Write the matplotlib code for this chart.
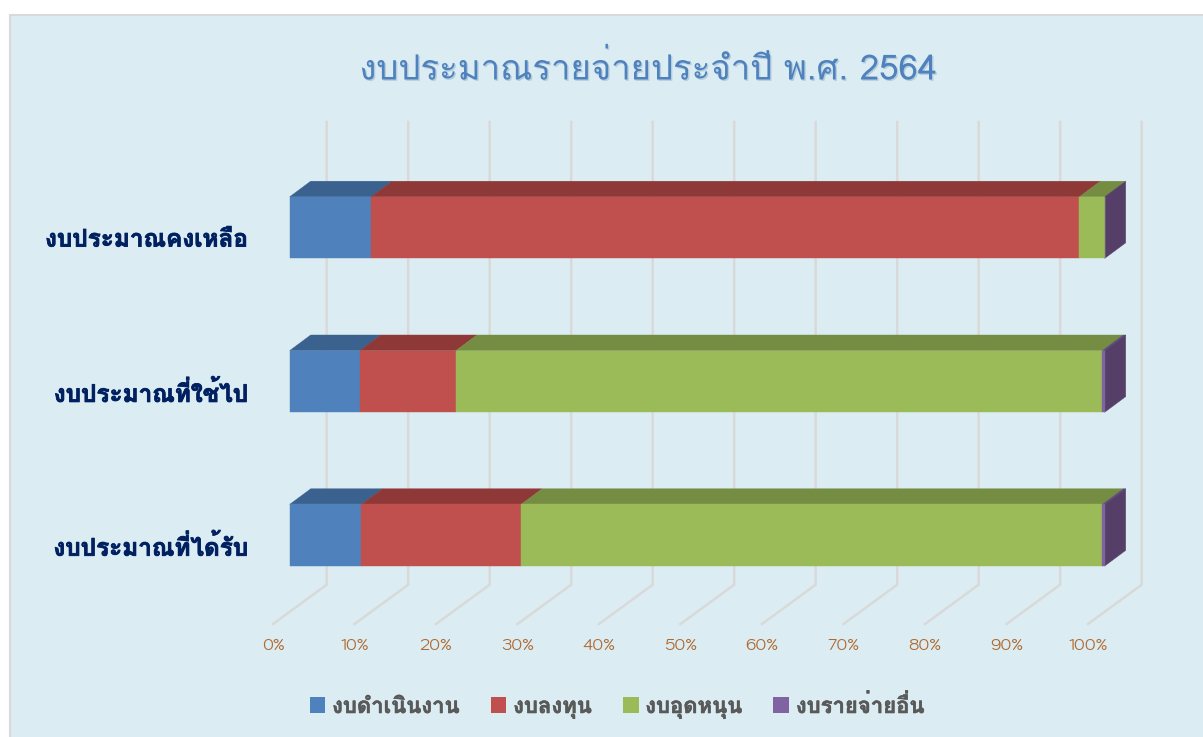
import numpy as np
from matplotlib import pyplot as plt
from matplotlib import patheffects as pe
from matplotlib.patches import Rectangle
from matplotlib.font_manager import FontProperties

W, H = 1203, 737

# data, share of each budget type in percent
categories = ['งบประมาณที่ได้รับ', 'งบประมาณที่ใช้ไป', 'งบประมาณคงเหลือ']
series_names = ['งบดำเนินงาน', 'งบลงทุน', 'งบอุดหนุน', 'งบรายจ่ายอื่น']
operating = [8.8, 8.6, 10.0]
investment = [19.6, 11.8, 86.9]
subsidy = [71.3, 79.3, 3.1]
other = [0.3, 0.3, 0.0]
xticks = [0, 10, 20, 30, 40, 50, 60, 70, 80, 90, 100]
xticklabels = ['0%', '10%', '20%', '30%', '40%', '50%', '60%', '70%', '80%', '90%', '100%']
title = 'งบประมาณรายจ่ายประจำปี พ.ศ. 2564'

front = ['#4F81BD', '#C0504D', '#9BBB59', '#8064A2']
top = ['#3B618F', '#8E3937', '#758D42', '#5F4A79']
side_color = '#553F69'
grid_color = '#D9D9D9'
thai = ['Loma', 'DejaVu Sans']

fig = plt.figure(figsize=(W / 100, H / 100), dpi=100, facecolor='white')
fig.add_artist(Rectangle((10 / W, -0.01), 1.1, 1 - 14.5 / H + 0.01, transform=fig.transFigure,
                         facecolor='#DBEDF3', edgecolor='#D9D9D9', linewidth=1.5, zorder=-1))

# axes run from the floor front edge to the back wall
px_per_x = 8.15
px_per_row = 153.8
x0_px, row0_px = 289.7, 535.2
left_px, right_px, top_px, bottom_px = 273.0, 1141.3, 122.0, 624.0
ax = fig.add_axes([left_px / W, 1 - bottom_px / H, (right_px - left_px) / W, (bottom_px - top_px) / H])
ax.set_xlim((left_px - x0_px) / px_per_x, (right_px - x0_px) / px_per_x)
ax.set_ylim((row0_px - bottom_px) / px_per_row, (row0_px - top_px) / px_per_row)
ax.patch.set_visible(False)
for s in ax.spines.values():
    s.set_visible(False)

# 3d offsets
bar_dx = 21.0 / px_per_x
bar_dy = 15.6 / px_per_row
floor_x = (left_px - x0_px) / px_per_x
wall_x = (326.7 - x0_px) / px_per_x
wall_y = (row0_px - 584.7) / px_per_row
floor_y = (row0_px - bottom_px) / px_per_row
top_y = (row0_px - top_px) / px_per_row

for v in xticks:
    ax.plot([v + floor_x, v + wall_x, v + wall_x], [floor_y, wall_y, top_y], color=grid_color,
            lw=1.8, solid_joinstyle='miter', zorder=1, clip_on=False)

y = np.arange(len(categories))
bar_h = 61.6 / px_per_row
series = [operating, investment, subsidy, other]
left = np.zeros(len(categories))
handles = []
for i, vals in enumerate(series):
    vals = np.array(vals)
    ax.barh(y, vals, bar_h, left=left, color=front[i], edgecolor=front[i], linewidth=0.3, zorder=3)
    handles.append(Rectangle((0, 0), 1, 1, facecolor=front[i]))
    for j in y:
        x1 = left[j]
        x2 = left[j] + vals[j]
        yt = j + bar_h / 2
        if vals[j] > 0:
            ax.fill([x1, x2, x2 + bar_dx, x1 + bar_dx], [yt, yt, yt + bar_dy, yt + bar_dy],
                    facecolor=top[i], edgecolor=top[i], linewidth=0.3, zorder=2.5)
    left = left + vals

# right side of each bar
for j in y:
    yt = j + bar_h / 2
    yb = j - bar_h / 2
    ax.fill([left[j], left[j] + bar_dx, left[j] + bar_dx, left[j]], [yt, yt + bar_dy, yb + bar_dy, yb],
            facecolor=side_color, edgecolor=side_color, linewidth=0.3, zorder=2.6)

ax.set_xticks(np.array(xticks) + floor_x, labels=xticklabels)
ax.set_yticks(y - 10 / px_per_row, labels=categories)
ax.tick_params(axis='x', length=0, pad=10, labelsize=11.5, labelcolor='#B0692F')
ax.tick_params(axis='y', length=0, pad=18, labelsize=17.5, labelcolor='#002060')
for t in ax.get_xticklabels():
    t.set_fontfamily(['Kodchasan', 'DejaVu Sans'])
for t in ax.get_yticklabels():
    t.set_fontfamily(thai)
    t.set_fontweight('bold')
    t.set_path_effects([pe.withStroke(linewidth=0.6, foreground='#002060')])

fig.text(648 / W, 1 - 68 / H, title, ha='center', va='center', fontsize=25, color='#4F81BD', family=thai,
         path_effects=[pe.withSimplePatchShadow(offset=(1, -1), shadow_rgbFace='#7F9FBF', alpha=0.4)])

leg = fig.legend(handles, series_names, loc='center', bbox_to_anchor=(617 / W, 1 - 706 / H), ncol=4, frameon=False,
                 handlelength=0.72, handleheight=0.72, handletextpad=0.3, columnspacing=1.4,
                 prop=FontProperties(family=thai, weight='bold', size=15.9), labelcolor='#595959')
for t in leg.get_texts():
    t.set_path_effects([pe.withStroke(linewidth=0.4, foreground='#595959')])

fig.savefig('out.png', dpi=100)
